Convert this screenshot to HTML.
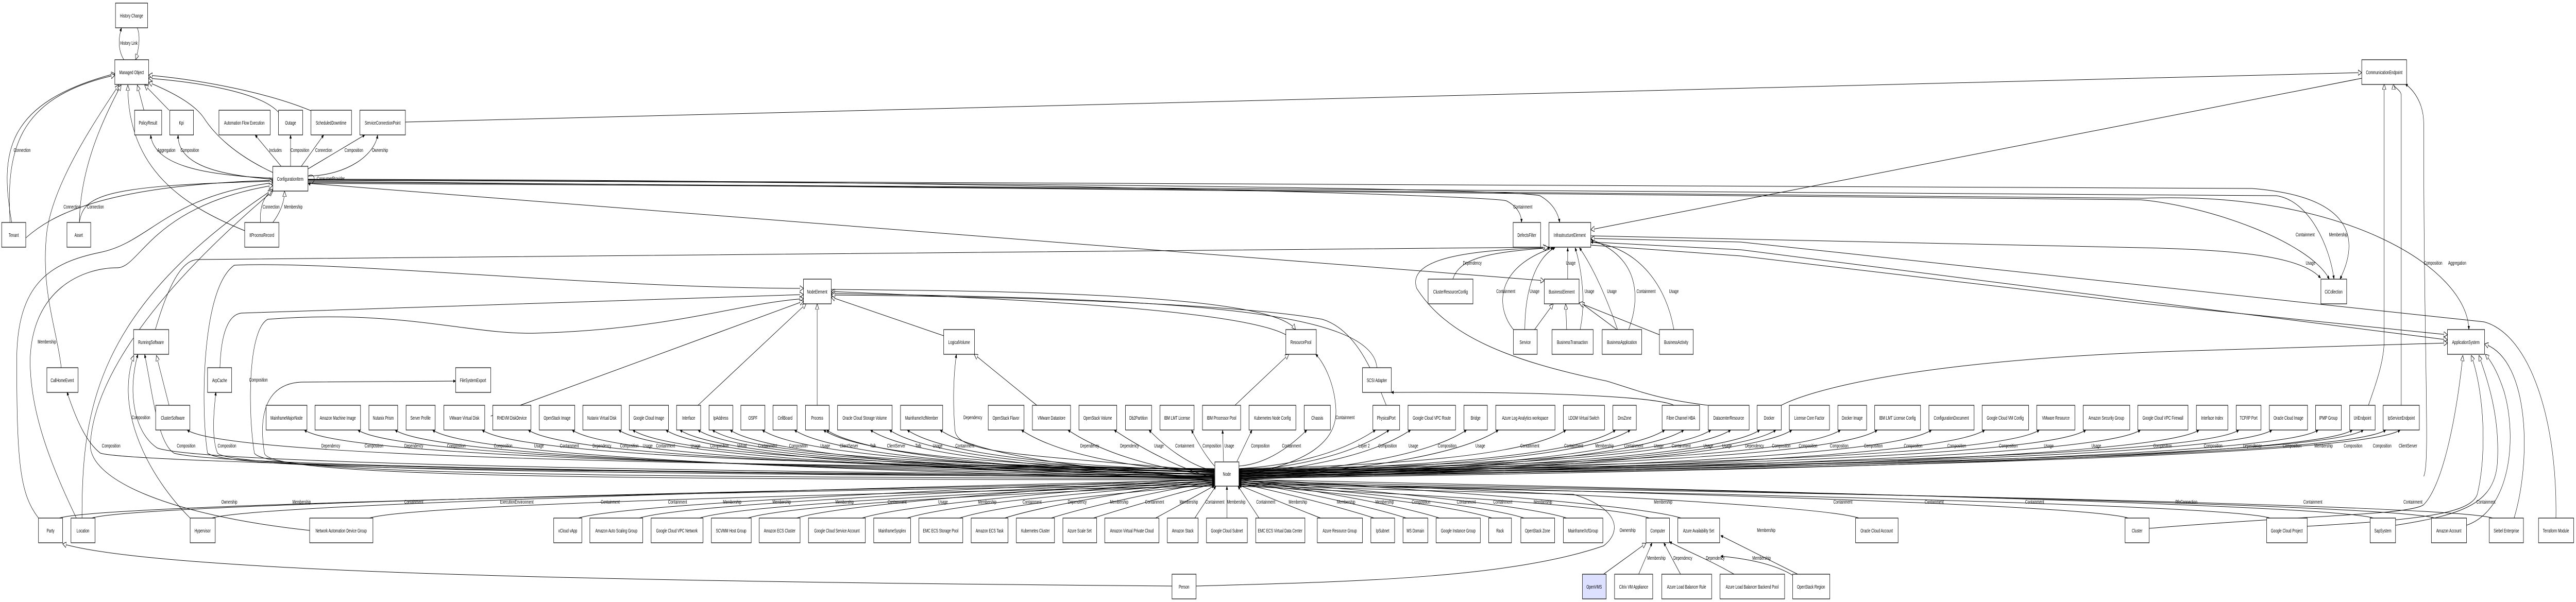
<!DOCTYPE html>
<html><head><meta charset="utf-8"><style>
html,body{margin:0;padding:0;background:#fff;overflow:hidden;width:100%;height:100%;}
svg{display:block;width:100vw;height:100vh;}
rect{fill:#fff;stroke:#000;stroke-width:1.2;}
rect.v{fill:#dde0ff;}
text{font-family:"Liberation Sans",sans-serif;font-size:10px;text-anchor:middle;fill:#000;}
path{fill:none;stroke:#000;stroke-width:1;}
.e path{marker-end:url(#a);}
.g path{marker-end:url(#g);}
</style></head><body>
<svg viewBox="0 0 7695 1169" preserveAspectRatio="none" xmlns="http://www.w3.org/2000/svg">
<defs>
<marker id="a" viewBox="0 0 10 10" refX="10" refY="5" markerWidth="7" markerHeight="7" markerUnits="userSpaceOnUse" orient="auto"><path d="M0,1 L10,5 L0,9z" style="fill:#000;stroke:#000"/></marker>
<marker id="g" viewBox="0 0 10 10" refX="10" refY="5" markerWidth="11" markerHeight="11" markerUnits="userSpaceOnUse" orient="auto"><path d="M0,0 L10,5 L0,10z" style="fill:#fff;stroke:#000"/></marker>
</defs>

<g class="e">
<path d="M3628,910 Q709,900 559,835"/>
<path d="M3628,915 Q1059,900 909,835"/>
<path d="M3628,920 Q1219,900 1069,835"/>
<path d="M3628,925 Q1330,900 1180,835"/>
<path d="M3628,930 Q1442,900 1292,835"/>
<path d="M3628,910 Q1590,900 1440,835"/>
<path d="M3628,915 Q1728,900 1578,835"/>
<path d="M3628,920 Q1859,900 1709,835"/>
<path d="M3628,925 Q1998,900 1848,835"/>
<path d="M3628,930 Q2139,900 1989,835"/>
<path d="M3628,912 Q2040,900 1890,835"/>
<path d="M3628,917 Q2235,900 2085,835"/>
<path d="M3628,922 Q2181,900 2031,835"/>
<path d="M3628,927 Q2331,900 2181,835"/>
<path d="M3628,911 Q2278,900 2128,835"/>
<path d="M3628,916 Q2427,900 2277,835"/>
<path d="M3628,921 Q2523,900 2373,835"/>
<path d="M3628,926 Q2619,900 2469,835"/>
<path d="M3628,913 Q2610,900 2460,835"/>
<path d="M3628,918 Q2807,900 2657,835"/>
<path d="M3628,923 Q2750,900 2600,835"/>
<path d="M3628,928 Q2958,900 2808,835"/>
<path d="M3628,914 Q2860,900 2710,835"/>
<path d="M3628,919 Q3201,900 3051,835"/>
<path d="M3628,924 Q3340,900 3190,835"/>
<path d="M3628,929 Q3478,900 3328,835"/>
<path d="M3628,915 Q3530,900 3432,835"/>
<path d="M3628,905 Q3594,880 3559,835"/>
<path d="M3655,896 L3652,835"/>
<path d="M3695,896 L3740,835"/>
<path d="M3701,905 Q3803,900 3904,835"/>
<path d="M3701,910 Q3959,900 4109,835"/>
<path d="M3701,915 Q4000,900 4150,835"/>
<path d="M3701,920 Q4064,900 4214,835"/>
<path d="M3701,925 Q4231,900 4381,835"/>
<path d="M3701,930 Q4326,900 4476,835"/>
<path d="M3701,910 Q4528,900 4678,835"/>
<path d="M3701,915 Q4676,900 4826,835"/>
<path d="M3701,920 Q4720,900 4870,835"/>
<path d="M3701,925 Q4823,900 4973,835"/>
<path d="M3701,930 Q4880,900 5030,835"/>
<path d="M3701,911 Q4961,900 5111,835"/>
<path d="M3701,916 Q5020,900 5170,835"/>
<path d="M3701,921 Q5107,900 5257,835"/>
<path d="M3701,926 Q5155,900 5305,835"/>
<path d="M3701,931 Q5203,900 5353,835"/>
<path d="M3701,912 Q5348,900 5498,835"/>
<path d="M3701,917 Q5458,900 5608,835"/>
<path d="M3701,922 Q5620,900 5770,835"/>
<path d="M3701,927 Q5779,900 5929,835"/>
<path d="M3701,913 Q5942,900 6092,835"/>
<path d="M3701,918 Q6081,900 6231,835"/>
<path d="M3701,923 Q6244,900 6394,835"/>
<path d="M3701,928 Q6419,900 6569,835"/>
<path d="M3701,914 Q6538,900 6688,835"/>
<path d="M3701,919 Q6637,900 6787,835"/>
<path d="M3701,924 Q6775,900 6925,835"/>
<path d="M3701,929 Q6877,900 7027,835"/>
<path d="M3701,915 Q6910,900 7060,835"/>
<path d="M3701,920 Q6977,900 7127,835"/>
<path d="M3701,925 Q7020,900 7170,835"/>
<path d="M3628,928 C2000,920 400,900 300,880 C260,860 230,820 200,761"/>
<path d="M3628,924 C2000,915 600,900 470,870 C400,840 380,760 412,688"/>
<path d="M3628,926 C2000,918 650,905 520,880 C470,860 455,760 432,688"/>
<path d="M3628,927 C2000,920 700,915 650,880 C630,850 640,790 645,761"/>
<path d="M3628,932 C2000,930 800,930 790,880 C770,800 800,745 900,742 L1361,740"/>
<path d="M3628,915 C3000,880 2850,880 2852,830 C2845,770 2850,720 2857,688"/>
<path d="M3701,925 C3900,900 4000,860 3990,790 C3985,740 3950,700 3930,688"/>
<path d="M7240,925 C7260,900 7240,700 7240,240 C7240,200 7210,175 7185,163"/>
</g>

<g class="e">
<path d="M177,1006 Q327,975 3628,940"/>
<path d="M274,1006 Q424,975 3628,936"/>
<path d="M633,1006 Q783,975 3628,932"/>
<path d="M1104,1006 Q1254,975 3628,944"/>
<path d="M1728,1006 Q1878,975 3628,930"/>
<path d="M1910,1006 Q2060,975 3628,934"/>
<path d="M2090,1006 Q2240,975 3628,938"/>
<path d="M2234,1006 Q2384,975 3628,942"/>
<path d="M2380,1006 Q2530,975 3628,929"/>
<path d="M2575,1006 Q2725,975 3628,933"/>
<path d="M2710,1006 Q2860,975 3628,937"/>
<path d="M2866,1006 Q3016,975 3628,941"/>
<path d="M3001,1006 Q3151,975 3628,931"/>
<path d="M3140,1006 Q3290,975 3628,935"/>
<path d="M3266,1006 Q3416,975 3628,939"/>
<path d="M3452,1006 Q3540,975 3628,943"/>
<path d="M3569,1006 Q3600,975 3632,944"/>
<path d="M3665,1006 L3665,944"/>
<path d="M3761,1006 Q3730,975 3698,944"/>
<path d="M3945,1006 Q3823,975 3701,942"/>
<path d="M4105,1006 Q3955,975 3701,938"/>
<path d="M4201,1006 Q4051,975 3701,934"/>
<path d="M4300,1006 Q4150,975 3701,930"/>
<path d="M4457,1006 Q4307,975 3701,940"/>
<path d="M4553,1006 Q4403,975 3701,936"/>
<path d="M4680,1006 Q4530,975 3701,932"/>
<path d="M4927,1006 Q4777,975 3701,944"/>
<path d="M5022,1006 Q4872,975 3701,929"/>
<path d="M5553,1006 Q5403,975 3701,933"/>
<path d="M6358,1006 Q6208,975 3701,937"/>
<path d="M6781,1006 Q6631,975 3701,941"/>
<path d="M7090,1006 Q6940,975 3701,931"/>
<path d="M7273,1006 Q7123,975 3701,935"/>
<path d="M7446,1006 Q7296,975 3701,939"/>
<path d="M3573,1138 C4000,1130 4500,1125 4790,1060 C4850,1030 4830,985 4700,960 L3701,943"/>
<path d="M4895,1115 L4935,1054"/>
<path d="M5020,1115 L4970,1054"/>
<path d="M5180,1115 C5100,1085 5020,1065 4987,1052"/>
<path d="M5370,1115 L5140,1040"/>
<path d="M5355,1117 C5300,1095 5220,1085 5140,1080"/>
<path d="M370,116 C350,95 355,70 363,54"/>
<path d="M815,346 C600,340 460,320 450,262"/>
<path d="M815,348 C650,340 530,320 532,262"/>
<path d="M840,323 L762,262"/>
<path d="M868,323 L868,262"/>
<path d="M900,323 L967,262"/>
<path d="M920,328 L1090,262"/>
<path d="M920,342 C1040,340 1120,300 1128,262"/>
<path d="M920,342 C945,332 945,362 920,356"/>
<path d="M4683,542 L4683,481"/>
<path d="M4340,542 C4360,500 4450,490 4630,481"/>
<path d="M4521,640 C4470,600 4460,520 4640,481"/>
<path d="M4555,640 C4555,560 4590,500 4645,481"/>
<path d="M4720,640 C4740,580 4720,510 4705,481"/>
<path d="M4832,640 C4800,580 4760,520 4718,481"/>
<path d="M4865,640 C4900,580 4900,500 4752,465"/>
<path d="M5000,640 C4980,560 4900,480 4752,470"/>
<path d="M5000,787 C4950,770 4600,760 4156,762"/>
<path d="M920,350 C3000,355 4500,365 4600,380 C4640,395 4655,415 4659,432"/>
<path d="M920,348 C3000,350 4450,380 4500,390 C4530,400 4545,415 4545,432"/>
<path d="M920,352 L6395,388 C6600,400 6900,470 6958,542"/>
<path d="M920,354 L6800,380 C6900,390 6960,480 6972,542"/>
<path d="M920,349 C4000,350 6300,360 6727,366 C7000,380 7060,450 6990,542"/>
<path d="M4752,458 L6395,481 C6700,485 6880,500 6932,540"/>
<path d="M920,356 C3000,360 6000,385 6400,385 C7000,370 7370,520 7375,640"/>
</g>

<g class="g">
<path d="M410,54 C420,70 415,95 405,116"/>
<path d="M35,432 C0,300 10,200 343,143"/>
<path d="M30,432 C20,300 40,190 343,146"/>
<path d="M183,714 C170,640 120,560 140,450 C160,350 300,220 355,165"/>
<path d="M237,432 C240,330 300,240 362,165"/>
<path d="M731,448 C550,400 380,330 382,165"/>
<path d="M430,214 L410,165"/>
<path d="M505,214 L432,165"/>
<path d="M815,335 C700,300 640,260 610,230 C580,200 500,175 444,160"/>
<path d="M832,218 C780,180 600,160 444,152"/>
<path d="M929,215 C800,180 600,155 444,146"/>
<path d="M77,462 C150,420 300,360 815,350"/>
<path d="M237,432 C250,380 300,360 815,352"/>
<path d="M115,1006 C60,960 50,900 50,700 C50,550 150,510 300,490 C450,470 500,380 815,355"/>
<path d="M228,1006 C150,900 90,800 90,700 C95,560 250,520 350,520 C420,520 450,400 815,360"/>
<path d="M245,1006 C245,800 280,600 815,368"/>
<path d="M925,1030 C500,1000 260,930 270,860 C280,760 400,600 815,371"/>
<path d="M778,432 C775,400 790,380 812,371"/>
<path d="M815,432 C840,410 850,390 850,371"/>
<path d="M464,640 C500,560 540,505 590,504 L4620,480"/>
<path d="M657,714 C660,650 680,612 720,608 L2400,572"/>
<path d="M3628,928 C2000,910 700,920 620,880 C600,800 600,560 700,515 C1000,505 1800,560 2400,560"/>
<path d="M3628,930 C2000,925 800,925 760,880 C740,800 740,640 800,620 C1200,600 1400,650 1600,647 C2000,640 2200,590 2400,580"/>
<path d="M568,1006 C450,930 340,800 400,690"/>
<path d="M505,787 L467,690"/>
<path d="M2085,787 L2408,590"/>
<path d="M2441,787 L2441,590"/>
<path d="M1466,808 L2400,585"/>
<path d="M2819,652 L2483,577"/>
<path d="M3841,650 C3700,600 3000,580 2483,566"/>
<path d="M4113,714 C4100,600 3500,580 2483,570"/>
<path d="M4141,787 C4100,720 4050,640 3950,620 C3700,590 3000,575 2483,573"/>
<path d="M3689,787 L3850,688"/>
<path d="M3097,787 L2910,688"/>
<path d="M2483,562 C3000,565 3800,570 3870,640"/>
<path d="M5102,787 C4950,775 4900,760 4800,740 C4500,700 4320,650 4232,560 C4200,500 4400,485 4625,481"/>
<path d="M920,356 L4613,545"/>
<path d="M4584,640 L4640,590"/>
<path d="M4680,640 L4677,590"/>
<path d="M4830,640 L4722,588"/>
<path d="M4957,650 L4717,588"/>
<path d="M1211,237 L7055,141"/>
<path d="M7055,152 L4752,446"/>
<path d="M7173,787 L7173,185 C7173,175 7150,170 7150,163"/>
<path d="M7075,787 C7100,740 7122,700 7122,660 L7122,163"/>
<path d="M4752,470 L5200,485 L7311,660"/>
<path d="M4752,476 L5200,497 L6395,589 L7311,650"/>
<path d="M5321,787 C5400,760 5700,700 6500,682 L7311,666"/>
<path d="M6420,1026 C6900,1000 7200,1000 7240,980 C7300,940 7340,800 7357,690"/>
<path d="M6892,1022 C7200,1010 7380,1000 7400,960 C7430,880 7420,760 7382,690"/>
<path d="M7156,1020 C7350,1000 7450,980 7460,900 C7470,800 7420,720 7405,690"/>
<path d="M7368,1020 C7500,990 7520,850 7480,760 C7460,720 7440,700 7424,688"/>
<path d="M7510,1006 C7560,900 7560,700 7422,668"/>
<path d="M7635,1006 C7640,820 7560,650 7420,625 L5200,470 L4752,463"/>
<path d="M4790,1115 L4917,1055"/>
<path d="M3501,1138 C2000,1130 500,1115 187,1056"/>
</g>

<g>
<rect x="345" y="6" width="96" height="48"/><text x="393" y="34">History Change</text>
<rect x="343" y="116" width="101" height="48"/><text x="393" y="144">Managed Object</text>
<rect x="402" y="214" width="81" height="48"/><text x="442" y="242">PolicyResult</text>
<rect x="507" y="214" width="71" height="48"/><text x="542" y="242">Kpi</text>
<rect x="654" y="214" width="153" height="48"/><text x="730" y="242">Automation Flow Execution</text>
<rect x="832" y="214" width="72" height="48"/><text x="868" y="242">Outage</text>
<rect x="929" y="214" width="121" height="48"/><text x="989" y="242">ScheduledDowntime</text>
<rect x="1075" y="214" width="136" height="48"/><text x="1143" y="242">ServiceConnectionPoint</text>
<rect x="7055" y="116" width="134" height="48"/><text x="7122" y="144">CommunicationEndpoint</text>
<rect x="815" y="323" width="105" height="48"/><text x="867" y="351">ConfigurationItem</text>
<rect x="5" y="432" width="72" height="48"/><text x="41" y="460">Tenant</text>
<rect x="200" y="432" width="71" height="48"/><text x="235" y="460">Asset</text>
<rect x="731" y="432" width="102" height="48"/><text x="782" y="460">ItProcessRecord</text>
<rect x="4520" y="432" width="82" height="48"/><text x="4561" y="460">DefectsFilter</text>
<rect x="4627" y="432" width="125" height="48"/><text x="4689" y="460">InfrastructureElement</text>
<rect x="2400" y="542" width="83" height="48"/><text x="2441" y="570">NodeElement</text>
<rect x="4266" y="542" width="134" height="48"/><text x="4333" y="570">ClusterResourceConfig</text>
<rect x="4613" y="542" width="104" height="48"/><text x="4665" y="570">BusinessElement</text>
<rect x="6933" y="542" width="77" height="48"/><text x="6971" y="570">CiCollection</text>
<rect x="399" y="640" width="105" height="48"/><text x="451" y="668">RunningSoftware</text>
<rect x="2819" y="640" width="92" height="48"/><text x="2865" y="668">LogicalVolume</text>
<rect x="3841" y="640" width="91" height="48"/><text x="3886" y="668">ResourcePool</text>
<rect x="4521" y="640" width="71" height="48"/><text x="4556" y="668">Service</text>
<rect x="4636" y="640" width="123" height="48"/><text x="4697" y="668">BusinessTransaction</text>
<rect x="4786" y="640" width="118" height="48"/><text x="4845" y="668">BusinessApplication</text>
<rect x="4957" y="640" width="101" height="48"/><text x="5007" y="668">BusinessActivity</text>
<rect x="7311" y="640" width="111" height="48"/><text x="7366" y="668">ApplicationSystem</text>
<rect x="140" y="714" width="93" height="48"/><text x="186" y="742">CallHomeEvent</text>
<rect x="620" y="714" width="72" height="48"/><text x="656" y="742">ArpCache</text>
<rect x="1361" y="714" width="105" height="48"/><text x="1413" y="742">FileSystemExport</text>
<rect x="4070" y="714" width="86" height="48"/><text x="4113" y="742">SCSI Adapter</text>

<rect x="465" y="787" width="102" height="48"/><text x="516" y="815">ClusterSoftware</text>
<rect x="795" y="787" width="122" height="48"/><text x="856" y="815">MainframeMajorNode</text>
<rect x="941" y="787" width="136" height="48"/><text x="1009" y="815">Amazon Machine Image</text>
<rect x="1102" y="787" width="86" height="48"/><text x="1145" y="815">Nutanix Prism</text>
<rect x="1213" y="787" width="87" height="48"/><text x="1256" y="815">Server Profile</text>
<rect x="1326" y="787" width="122" height="48"/><text x="1387" y="815">VMware Virtual Disk</text>
<rect x="1472" y="787" width="114" height="48"/><text x="1529" y="815">RHEVM DiskDevice</text>
<rect x="1611" y="787" width="106" height="48"/><text x="1664" y="815">OpenStack Image</text>
<rect x="1741" y="787" width="115" height="48"/><text x="1798" y="815">Nutanix Virtual Disk</text>
<rect x="1880" y="787" width="117" height="48"/><text x="1938" y="815">Google Cloud Image</text>
<rect x="2021" y="787" width="72" height="48"/><text x="2057" y="815">Interface</text>
<rect x="2118" y="787" width="71" height="48"/><text x="2153" y="815">IpAddress</text>
<rect x="2213" y="787" width="72" height="48"/><text x="2249" y="815">OSPF</text>
<rect x="2309" y="787" width="72" height="48"/><text x="2345" y="815">CellBoard</text>
<rect x="2406" y="787" width="71" height="48"/><text x="2441" y="815">Process</text>
<rect x="2502" y="787" width="163" height="48"/><text x="2583" y="815">Oracle Cloud Storage Volume</text>
<rect x="2690" y="787" width="126" height="48"/><text x="2753" y="815">MainframeXcfMember</text>
<rect x="2952" y="787" width="107" height="48"/><text x="3005" y="815">OpenStack Flavor</text>
<rect x="3084" y="787" width="114" height="48"/><text x="3141" y="815">VMware Datastore</text>
<rect x="3223" y="787" width="113" height="48"/><text x="3279" y="815">OpenStack Volume</text>
<rect x="3362" y="787" width="78" height="48"/><text x="3401" y="815">Db2Partition</text>
<rect x="3465" y="787" width="102" height="48"/><text x="3516" y="815">IBM LMT License</text>
<rect x="3592" y="787" width="114" height="48"/><text x="3649" y="815">IBM Processor Pool</text>
<rect x="3731" y="787" width="140" height="48"/><text x="3801" y="815">Kubernetes Node Config</text>
<rect x="3896" y="787" width="78" height="48"/><text x="3935" y="815">Chassis</text>
<rect x="4101" y="787" width="80" height="48"/><text x="4141" y="815">PhysicalPort</text>
<rect x="4206" y="787" width="142" height="48"/><text x="4277" y="815">Google Cloud VPC Route</text>
<rect x="4373" y="787" width="70" height="48"/><text x="4408" y="815">Bridge</text>
<rect x="4468" y="787" width="177" height="48"/><text x="4556" y="815">Azure Log Analytics workspace</text>
<rect x="4670" y="787" width="123" height="48"/><text x="4731" y="815">LDOM Virtual Switch</text>
<rect x="4818" y="787" width="70" height="48"/><text x="4853" y="815">DnsZone</text>
<rect x="4965" y="787" width="112" height="48"/><text x="5021" y="815">Fibre Channel HBA</text>
<rect x="5103" y="787" width="122" height="48"/><text x="5164" y="815">DatacenterResource</text>
<rect x="5249" y="787" width="72" height="48"/><text x="5285" y="815">Docker</text>
<rect x="5345" y="787" width="120" height="48"/><text x="5405" y="815">License Core Factor</text>
<rect x="5490" y="787" width="86" height="48"/><text x="5533" y="815">Docker Image</text>
<rect x="5600" y="787" width="137" height="48"/><text x="5668" y="815">IBM LMT License Config</text>
<rect x="5762" y="787" width="135" height="48"/><text x="5829" y="815">ConfigurationDocument</text>
<rect x="5921" y="787" width="139" height="48"/><text x="5990" y="815">Google Cloud VM Config</text>
<rect x="6084" y="787" width="114" height="48"/><text x="6141" y="815">VMware Resource</text>
<rect x="6223" y="787" width="139" height="48"/><text x="6292" y="815">Amazon Security Group</text>
<rect x="6386" y="787" width="150" height="48"/><text x="6461" y="815">Google Cloud VPC Firewall</text>
<rect x="6561" y="787" width="94" height="48"/><text x="6608" y="815">Interface Index</text>
<rect x="6680" y="787" width="74" height="48"/><text x="6717" y="815">TCP/IP Port</text>
<rect x="6779" y="787" width="114" height="48"/><text x="6836" y="815">Oracle Cloud Image</text>
<rect x="6917" y="787" width="77" height="48"/><text x="6955" y="815">IPMP Group</text>
<rect x="7019" y="787" width="76" height="48"/><text x="7057" y="815">UriEndpoint</text>
<rect x="7119" y="787" width="108" height="48"/><text x="7173" y="815">IpServiceEndpoint</text>

<rect x="3629" y="897" width="72" height="47"/><text x="3665" y="924">Node</text>

<rect x="115" y="1006" width="72" height="48"/><text x="151" y="1034">Party</text>
<rect x="212" y="1006" width="72" height="48"/><text x="248" y="1034">Location</text>
<rect x="568" y="1006" width="75" height="48"/><text x="605" y="1034">Hypervisor</text>
<rect x="925" y="1006" width="189" height="48"/><text x="1019" y="1034">Network Automation Device Group</text>
<rect x="1654" y="1006" width="84" height="48"/><text x="1696" y="1034">vCloud vApp</text>
<rect x="1762" y="1006" width="158" height="48"/><text x="1841" y="1034">Amazon Auto Scaling Group</text>
<rect x="1945" y="1006" width="155" height="48"/><text x="2022" y="1034">Google Cloud VPC Network</text>
<rect x="2125" y="1006" width="119" height="48"/><text x="2184" y="1034">SCVMM Host Group</text>
<rect x="2268" y="1006" width="122" height="48"/><text x="2329" y="1034">Amazon ECS Cluster</text>
<rect x="2415" y="1006" width="170" height="48"/><text x="2500" y="1034">Google Cloud Service Account</text>
<rect x="2610" y="1006" width="110" height="48"/><text x="2665" y="1034">MainframeSysplex</text>
<rect x="2745" y="1006" width="131" height="48"/><text x="2810" y="1034">EMC ECS Storage Pool</text>
<rect x="2901" y="1006" width="110" height="48"/><text x="2956" y="1034">Amazon ECS Task</text>
<rect x="3036" y="1006" width="114" height="48"/><text x="3093" y="1034">Kubernetes Cluster</text>
<rect x="3175" y="1006" width="101" height="48"/><text x="3225" y="1034">Azure Scale Set</text>
<rect x="3300" y="1006" width="162" height="48"/><text x="3381" y="1034">Amazon Virtual Private Cloud</text>
<rect x="3487" y="1006" width="92" height="48"/><text x="3533" y="1034">Amazon Stack</text>
<rect x="3604" y="1006" width="122" height="48"/><text x="3665" y="1034">Google Cloud Subnet</text>
<rect x="3751" y="1006" width="147" height="48"/><text x="3824" y="1034">EMC ECS Virtual Data Center</text>
<rect x="3935" y="1006" width="135" height="48"/><text x="4002" y="1034">Azure Resource Group</text>
<rect x="4095" y="1006" width="71" height="48"/><text x="4130" y="1034">IpSubnet</text>
<rect x="4191" y="1006" width="74" height="48"/><text x="4228" y="1034">MS Domain</text>
<rect x="4290" y="1006" width="132" height="48"/><text x="4356" y="1034">Google Instance Group</text>
<rect x="4447" y="1006" width="68" height="48"/><text x="4481" y="1034">Rack</text>
<rect x="4543" y="1006" width="101" height="48"/><text x="4593" y="1034">OpenStack Zone</text>
<rect x="4670" y="1006" width="118" height="48"/><text x="4729" y="1034">MainframeXcfGroup</text>
<rect x="4917" y="1006" width="70" height="48"/><text x="4952" y="1034">Computer</text>
<rect x="5012" y="1006" width="125" height="48"/><text x="5074" y="1034">Azure Availability Set</text>
<rect x="5543" y="1006" width="127" height="48"/><text x="5606" y="1034">Oracle Cloud Account</text>
<rect x="6348" y="1006" width="72" height="48"/><text x="6384" y="1034">Cluster</text>
<rect x="6771" y="1006" width="121" height="48"/><text x="6831" y="1034">Google Cloud Project</text>
<rect x="7080" y="1006" width="76" height="48"/><text x="7118" y="1034">SapSystem</text>
<rect x="7263" y="1006" width="105" height="48"/><text x="7315" y="1034">Amazon Account</text>
<rect x="7436" y="1006" width="102" height="48"/><text x="7487" y="1034">Siebel Enterprise</text>
<rect x="7583" y="1006" width="105" height="48"/><text x="7635" y="1034">Terraform Module</text>

<rect x="3501" y="1115" width="72" height="48"/><text x="3537" y="1143">Person</text>
<rect class="v" x="4727" y="1115" width="71" height="48"/><text x="4762" y="1143">OpenVMS</text>
<rect x="4823" y="1115" width="114" height="48"/><text x="4880" y="1143">Citrix VM Appliance</text>
<rect x="4964" y="1115" width="149" height="48"/><text x="5038" y="1143">Azure Load Balancer Rule</text>
<rect x="5138" y="1115" width="193" height="48"/><text x="5234" y="1143">Azure Load Balancer Backend Pool</text>
<rect x="5355" y="1115" width="111" height="48"/><text x="5410" y="1143">OpenStack Region</text>
</g>

<g>
<text x="385" y="87">History Link</text>
<text x="66" y="295">Connection</text>
<text x="497" y="295">Aggregation</text><text x="567" y="295">Composition</text><text x="823" y="295">Includes</text><text x="896" y="295">Composition</text><text x="967" y="295">Connection</text><text x="1057" y="295">Composition</text><text x="1135" y="295">Ownership</text>
<text x="988" y="350">ConsumerProvider</text>
<text x="215" y="405">Connection</text><text x="285" y="405">Connection</text><text x="810" y="405">Connection</text><text x="876" y="405">Membership</text>
<text x="4549" y="405">Containment</text>
<text x="4692" y="514">Usage</text><text x="4398" y="514">Dependency</text>
<text x="4498" y="569">Containment</text><text x="4584" y="569">Usage</text><text x="4748" y="569">Usage</text><text x="4815" y="569">Usage</text><text x="4917" y="569">Containment</text><text x="5000" y="569">Usage</text>
<text x="6886" y="459">Containment</text><text x="6985" y="459">Membership</text><text x="6902" y="514">Usage</text>
<text x="7268" y="514">Composition</text><text x="7340" y="514">Aggregation</text>
<text x="140" y="667">Membership</text>
<text x="772" y="741">Composition</text>
<text x="421" y="814">Composition</text><text x="2906" y="814">Dependency</text><text x="4018" y="814">Containment</text>

<text x="332" y="869">Composition</text><text x="556" y="869">Composition</text><text x="678" y="869">Composition</text><text x="988" y="869">Dependency</text><text x="1117" y="869">Composition</text><text x="1236" y="869">Dependency</text>
<text x="1363" y="869">Composition</text><text x="1503" y="869">Composition</text><text x="1610" y="869">Usage</text><text x="1701" y="869">Containment</text><text x="1798" y="869">Dependency</text><text x="1880" y="869">Composition</text><text x="1935" y="869">Usage</text><text x="1988" y="869">Containment</text><text x="2078" y="869">Usage</text><text x="2149" y="869">Composition</text><text x="2216" y="869">Virtual</text><text x="2293" y="869">Containment</text><text x="2385" y="869">Composition</text><text x="2465" y="869">Usage</text><text x="2536" y="869">ClientServer</text>
<text x="2608" y="869">Talk</text><text x="2677" y="869">ClientServer</text><text x="2743" y="869">Talk</text><text x="2801" y="869">Usage</text><text x="2882" y="869">Containment</text><text x="3255" y="869">Dependency</text><text x="3374" y="869">Dependency</text><text x="3462" y="869">Usage</text><text x="3539" y="869">Containment</text><text x="3620" y="869">Composition</text><text x="3672" y="869">Usage</text><text x="3765" y="869">Composition</text><text x="3858" y="869">Containment</text>
<text x="4075" y="869">Layer 2</text><text x="4145" y="869">Composition</text><text x="4222" y="869">Usage</text><text x="4323" y="869">Composition</text><text x="4422" y="869">Usage</text><text x="4570" y="869">Containment</text><text x="4701" y="869">Containment</text><text x="4793" y="869">Membership</text><text x="4880" y="869">Containment</text><text x="4955" y="869">Usage</text><text x="5022" y="869">Containment</text><text x="5103" y="869">Usage</text><text x="5159" y="869">Usage</text>
<text x="5241" y="869">Dependency</text><text x="5321" y="869">Composition</text><text x="5401" y="869">Composition</text><text x="5494" y="869">Composition</text><text x="5596" y="869">Composition</text><text x="5715" y="869">Composition</text><text x="5845" y="869">Composition</text><text x="5999" y="869">Composition</text><text x="6120" y="869">Usage</text><text x="6262" y="869">Usage</text><text x="6460" y="869">Composition</text>
<text x="6611" y="869">Composition</text><text x="6728" y="869">Dependency</text><text x="6847" y="869">Composition</text><text x="6941" y="869">Membership</text><text x="7029" y="869">Composition</text><text x="7116" y="869">Composition</text><text x="7193" y="869">ClientServer</text>

<text x="685" y="978">Ownership</text><text x="901" y="978">Membership</text><text x="1236" y="978">Containment</text>
<text x="1544" y="978">ExecutionEnvironment</text><text x="1823" y="978">Containment</text><text x="2024" y="978">Containment</text><text x="2187" y="978">Membership</text><text x="2335" y="978">Membership</text><text x="2523" y="978">Membership</text>
<text x="2680" y="978">Containment</text><text x="2817" y="978">Usage</text><text x="2949" y="978">Membership</text><text x="3083" y="978">Containment</text><text x="3218" y="978">Dependency</text><text x="3343" y="978">Membership</text><text x="3449" y="978">Containment</text><text x="3551" y="978">Membership</text><text x="3629" y="978">Containment</text><text x="3693" y="978">Membership</text><text x="3781" y="978">Containment</text><text x="3877" y="978">Membership</text>
<text x="4021" y="978">Membership</text><text x="4136" y="978">Membership</text><text x="4245" y="978">Composition</text><text x="4380" y="978">Containment</text><text x="4489" y="978">Containment</text><text x="4609" y="978">Membership</text><text x="4968" y="978">Membership</text>
<text x="5505" y="978">Containment</text><text x="5778" y="978">Containment</text><text x="6078" y="978">Containment</text><text x="6531" y="978">RfcConnection</text><text x="6909" y="978">Containment</text><text x="7208" y="978">Containment</text><text x="7426" y="978">Containment</text>
<text x="4862" y="1033">Ownership</text><text x="5276" y="1033">Membership</text>
<text x="4948" y="1087">Membership</text><text x="5027" y="1087">Dependency</text><text x="5124" y="1087">Dependency</text><text x="5262" y="1087">Membership</text>
</g>
</svg>
</body></html>
